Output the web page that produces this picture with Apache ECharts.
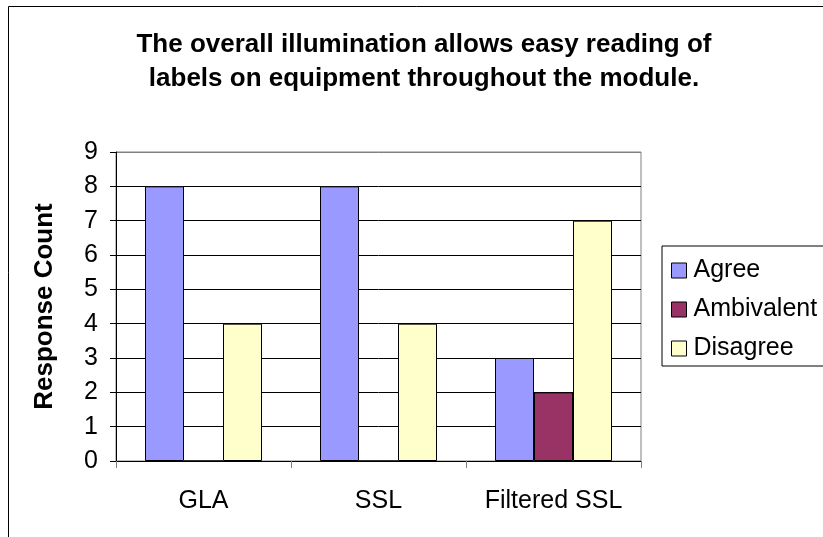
<!DOCTYPE html>
<html>
<head>
<meta charset="utf-8">
<script src="https://cdn.jsdelivr.net/npm/echarts@6/dist/echarts.min.js"></script>
<style>
  html, body { margin: 0; padding: 0; background: #fff; }
  #chart { width: 823px; height: 537px; }
</style>
</head>
<body>
<div id="chart"></div>
<script>
// categories and counts
const categories = ['GLA', 'SSL', 'Filtered SSL'];
const agree = [8, 8, 3];
const ambivalent = [0, 0, 2];
const disagree = [4, 4, 7];
const yTicks = [0, 1, 2, 3, 4, 5, 6, 7, 8, 9];

const font = '"Liberation Sans", Arial, sans-serif';

// top grid line is the grey plot border, the others are black
const splitColors = yTicks.map((v, i) => (i === yTicks.length - 1 ? '#808080' : '#000'));

const chart = echarts.init(document.getElementById('chart'), null, { renderer: 'canvas' });

function barSeries(name, data, color) {
  return {
    name: name,
    type: 'bar',
    data: data,
    barWidth: 39,
    barGap: '0%',
    itemStyle: { color: color, borderColor: '#000', borderWidth: 1 },
    emphasis: { disabled: true }
  };
}

chart.setOption({
  animation: false,
  backgroundColor: '#fff',
  title: {
    text: 'The overall illumination allows easy reading of\nlabels on equipment throughout the module.',
    left: 419,
    top: 23,
    textAlign: 'center',
    textStyle: {
      fontFamily: font,
      fontSize: 26,
      fontWeight: 'bold',
      color: '#000',
      lineHeight: 34
    }
  },
  grid: {
    left: 116,
    top: 152,
    right: 182,
    bottom: 76,
    show: true,
    borderColor: '#808080',
    borderWidth: 1
  },
  legend: {
    orient: 'vertical',
    left: 662,
    top: 246,
    padding: [12, 10, 5, 9],
    itemWidth: 15,
    itemHeight: 15,
    itemGap: 14,
    borderColor: '#000',
    borderWidth: 1,
    icon: 'rect',
    itemStyle: { borderColor: '#000', borderWidth: 1 },
    textStyle: { fontFamily: font, fontSize: 25, color: '#000', padding: [0, 0, 0, 2] },
    data: ['Agree', 'Ambivalent', 'Disagree']
  },
  xAxis: {
    type: 'category',
    data: categories,
    axisLine: { lineStyle: { color: '#000', width: 1 } },
    axisTick: { show: true, length: 7, lineStyle: { color: '#808080' } },
    axisLabel: { interval: 0, fontFamily: font, fontSize: 25, color: '#000', margin: 28 }
  },
  yAxis: {
    type: 'value',
    min: 0,
    max: 9,
    interval: 1,
    name: 'Response Count',
    nameLocation: 'middle',
    nameGap: 58,
    nameTextStyle: { fontFamily: font, fontSize: 26, fontWeight: 'bold', color: '#000' },
    axisLine: { show: true, lineStyle: { color: '#000', width: 1 } },
    axisTick: { show: true, length: 6, lineStyle: { color: '#000' } },
    axisLabel: { fontFamily: font, fontSize: 25, color: '#000', margin: 18 },
    splitLine: { show: true, lineStyle: { color: splitColors, width: 1 } }
  },
  series: [
    barSeries('Agree', agree, '#9999FF'),
    barSeries('Ambivalent', ambivalent, '#993366'),
    barSeries('Disagree', disagree, '#FFFFCC')
  ],
  graphic: [
    {
      type: 'rect',
      silent: true,
      z: -1,
      shape: { x: 8.5, y: 6.5, width: 900, height: 600 },
      style: { fill: 'none', stroke: '#000', lineWidth: 1 }
    }
  ]
});
</script>
</body>
</html>
